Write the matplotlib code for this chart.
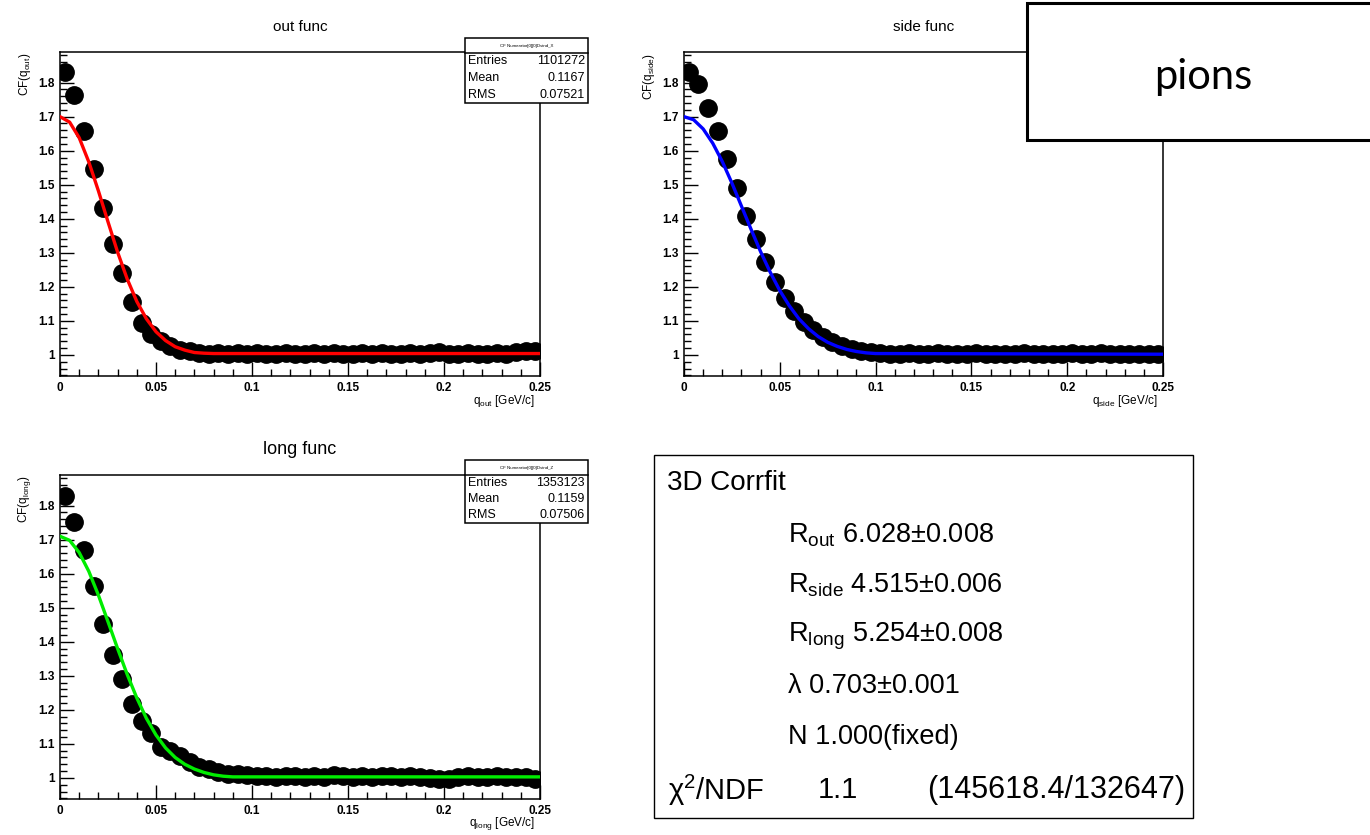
import numpy as np
import matplotlib
matplotlib.use("Agg")
import matplotlib.pyplot as plt
from matplotlib.ticker import MultipleLocator, FuncFormatter
from matplotlib.patches import Rectangle

plt.rcParams['font.family'] = ['Liberation Sans', 'DejaVu Sans']
plt.rcParams['mathtext.fontset'] = 'custom'
plt.rcParams['mathtext.rm'] = 'Liberation Sans'
plt.rcParams['mathtext.it'] = 'Liberation Sans:italic'

# ---------------- data ----------------
q_centers = np.arange(0.0025, 0.25, 0.005)   # 50 bins of width 0.005 GeV/c

out_cf = [1.832, 1.764, 1.659, 1.546, 1.433, 1.326, 1.241, 1.155, 1.094, 1.060,
          1.042, 1.025, 1.015, 1.010, 1.006, 1.004, 1.006, 1.003, 1.005, 1.002,
          1.006, 1.004, 1.003, 1.005, 1.004, 1.002, 1.005, 1.003, 1.006, 1.004,
          1.003, 1.005, 1.002, 1.006, 1.003, 1.004, 1.006, 1.003, 1.005, 1.008,
          1.004, 1.002, 1.006, 1.004, 1.003, 1.007, 1.004, 1.009, 1.011, 1.010]

side_cf = [1.832, 1.797, 1.724, 1.659, 1.576, 1.491, 1.409, 1.340, 1.272, 1.215,
           1.168, 1.130, 1.098, 1.072, 1.052, 1.037, 1.026, 1.018, 1.012, 1.008,
           1.006, 1.004, 1.003, 1.005, 1.002, 1.003, 1.006, 1.004, 1.002, 1.003,
           1.005, 1.003, 1.002, 1.004, 1.003, 1.005, 1.004, 1.003, 1.002, 1.004,
           1.005, 1.003, 1.004, 1.006, 1.002, 1.003, 1.004, 1.003, 1.002, 1.003]

long_cf = [1.828, 1.752, 1.669, 1.563, 1.451, 1.362, 1.290, 1.217, 1.168, 1.131,
           1.090, 1.078, 1.063, 1.048, 1.033, 1.025, 1.018, 1.012, 1.010, 1.008,
           1.006, 1.007, 1.004, 1.006, 1.005, 1.003, 1.006, 1.004, 1.008, 1.005,
           1.003, 1.006, 1.004, 1.007, 1.005, 1.004, 1.006, 1.003, 1.001, 0.997,
           0.996, 1.003, 1.006, 1.004, 1.003, 1.005, 1.002, 1.004, 1.003, 0.998]

fit_q = [0.0, 0.005, 0.010, 0.015, 0.020, 0.025, 0.030, 0.035, 0.040, 0.045,
         0.050, 0.055, 0.060, 0.065, 0.070, 0.075, 0.080, 0.085, 0.090, 0.095,
         0.100, 0.250]
out_fit = [1.700, 1.684, 1.638, 1.567, 1.482, 1.391, 1.302, 1.223, 1.157, 1.106,
           1.068, 1.042, 1.024, 1.014, 1.007, 1.005, 1.004, 1.004, 1.004, 1.004,
           1.004, 1.004]
side_fit = [1.700, 1.691, 1.664, 1.622, 1.568, 1.505, 1.437, 1.369, 1.303, 1.243,
            1.189, 1.144, 1.106, 1.077, 1.054, 1.037, 1.025, 1.016, 1.010, 1.006,
            1.004, 1.002]
long_fit = [1.710, 1.698, 1.662, 1.607, 1.537, 1.459, 1.380, 1.304, 1.235, 1.175,
            1.126, 1.088, 1.060, 1.040, 1.026, 1.016, 1.009, 1.005, 1.003, 1.003,
            1.003, 1.003]

titles = ["out func", "side func", "long func"]
subs = ["out", "side", "long"]
stats_labels = ["Entries", "Mean", "RMS"]
stats_out = ["1101272", "0.1167", "0.07521"]
stats_long = ["1353123", "0.1159", "0.07506"]
fit_title = "3D Corrfit"
fit_lines = [r"R$_{\mathrm{out}}$ 6.028±0.008",
             r"R$_{\mathrm{side}}$ 4.515±0.006",
             r"R$_{\mathrm{long}}$ 5.254±0.008",
             "λ 0.703±0.001",
             "N 1.000(fixed)"]
chi_parts = ["χ$^{2}$/NDF", "1.1", "(145618.4/132647)"]

W, H = 1370, 835
fig = plt.figure(figsize=(W / 100, H / 100), dpi=100)

def px_axes(x0, y0, x1, y1):
    return fig.add_axes([x0 / W, 1 - y1 / H, (x1 - x0) / W, (y1 - y0) / H])

def xf(v, pos):
    if abs(v) < 1e-9:
        return "0"
    return ("%g" % v)

def yf(v, pos):
    if abs(v - 1) < 1e-9:
        return "1"
    return "%.1f" % v

def panel(rect, cf, fitv, color, title, sub, title_size=11, title_y=None):
    ax = px_axes(*rect)
    ax.plot(q_centers, cf, 'o', color='black', markersize=12.5, zorder=2)
    ax.plot(fit_q, fitv, '-', color=color, lw=2.4, zorder=3)
    ax.set_xlim(0, 0.25)
    ax.set_ylim(0.938, 1.89)
    ax.xaxis.set_major_locator(MultipleLocator(0.05))
    ax.xaxis.set_minor_locator(MultipleLocator(0.01))
    ax.yaxis.set_major_locator(MultipleLocator(0.1))
    ax.yaxis.set_minor_locator(MultipleLocator(0.02))
    ax.xaxis.set_major_formatter(FuncFormatter(xf))
    ax.yaxis.set_major_formatter(FuncFormatter(yf))
    ax.tick_params(which='both', direction='in', top=False, right=False,
                   width=1.0, labelsize=8.5)
    ax.tick_params(which='major', length=10, pad=4)
    ax.tick_params(which='minor', length=5)
    for s in ax.spines.values():
        s.set_linewidth(1.1)
    for lab in ax.get_xticklabels() + ax.get_yticklabels():
        lab.set_fontweight('bold')
    x0, y0, x1, y1 = rect
    fig.text((x0 + x1) / 2 / W, 1 - title_y / H, title,
             ha='center', va='center', fontsize=title_size)
    fig.text((x0 - 35) / W, 1 - (y0 + 1) / H, r"CF(q$_{\mathrm{%s}}$)" % sub, rotation=90,
             ha='center', va='top', fontsize=8.5)
    fig.text((x1 - 5) / W, 1 - (y1 + 25) / H, r"q$_{\mathrm{%s}}$ [GeV/c]" % sub,
             ha='right', va='center', fontsize=8.5)
    return ax

panel((60, 52, 540, 376), out_cf, out_fit, (1, 0, 0), titles[0], subs[0], title_y=27)
panel((684, 52, 1163, 376), side_cf, side_fit, (0, 0, 1), titles[1], subs[1], title_y=27)
panel((60, 475, 540, 799), long_cf, long_fit, (0, 0.93, 0), titles[2], subs[2],
      title_size=13, title_y=450)

ov = fig.add_axes([0, 0, 1, 1], facecolor='none')
ov.set_xlim(0, W)
ov.set_ylim(H, 0)
ov.axis('off')

def statbox(x0, y0, x1, ydiv, y1, name, vals):
    ov.add_patch(Rectangle((x0, y0), x1 - x0, y1 - y0, facecolor='white',
                           edgecolor='black', lw=1.1, zorder=5))
    ov.plot([x0, x1], [ydiv, ydiv], color='black', lw=1.1, zorder=6)
    ov.text((x0 + x1) / 2, (y0 + ydiv) / 2, name, fontsize=3.2, ha='center',
            va='center', zorder=7)
    n = len(stats_labels)
    for i, (lab, v) in enumerate(zip(stats_labels, vals)):
        yy = ydiv + (y1 - ydiv) * (i + 0.5) / n
        ov.text(x0 + 3, yy, lab, fontsize=9, ha='left', va='center', zorder=7)
        ov.text(x1 - 3, yy, v, fontsize=9, ha='right', va='center', zorder=7)

statbox(465, 38, 588, 53, 103, "CF Numerator[0][0]Dvind_X", stats_out)
statbox(465, 460, 588, 475, 523, "CF Numerator[0][0]Dvind_Z", stats_long)

# fit result box
ov.add_patch(Rectangle((654, 455), 1193 - 654, 818 - 455, facecolor='white',
                       edgecolor='black', lw=1.0, zorder=5))
ov.text(667, 483, fit_title, fontsize=20, ha='left', va='center', zorder=6)
ys = [535, 585, 636, 686, 737]
for yy, t in zip(ys, fit_lines):
    ov.text(788, yy, t, fontsize=19.5, ha='left', va='center', zorder=6)
ov.text(668, 790, chi_parts[0], fontsize=21, ha='left', va='center', zorder=6)
ov.text(818, 790, chi_parts[1], fontsize=21, ha='left', va='center', zorder=6)
ov.text(1185, 790, chi_parts[2], fontsize=22, ha='right', va='center', zorder=6)

# pions box
ov.add_patch(Rectangle((1027, 3), 400, 137, facecolor='white', edgecolor='black',
                       lw=2.2, zorder=8))
ov.text(1203, 77, "pions", fontsize=30, ha='center', va='center', zorder=9,
        family=['Lato', 'DejaVu Sans'])

fig.savefig("out.png", dpi=100)
